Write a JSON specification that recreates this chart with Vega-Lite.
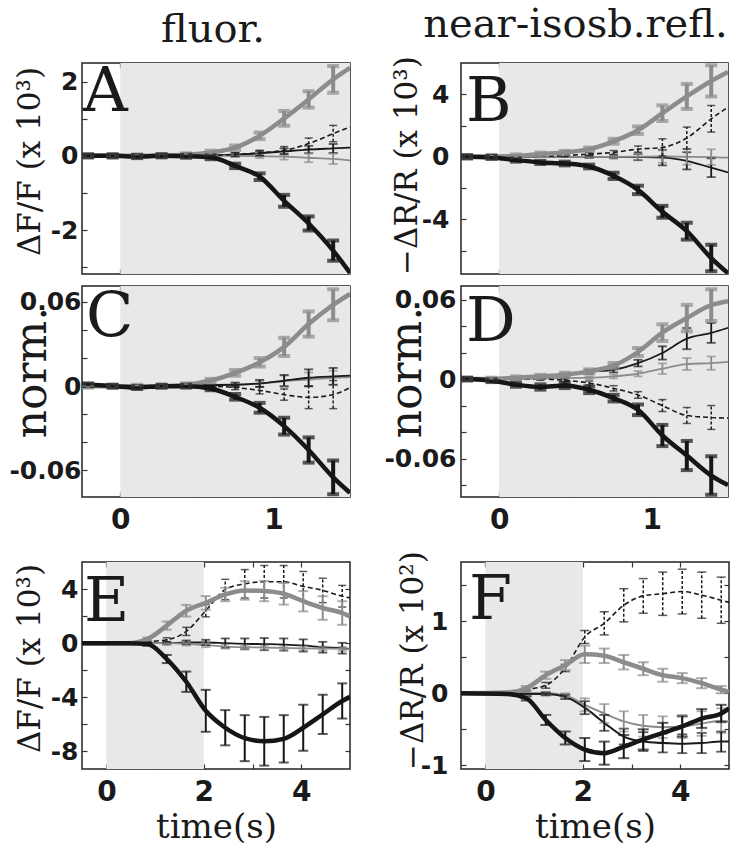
{
"$schema":"https://vega.github.io/schema/vega-lite/v6.json",
"background":"white",
"padding":{"left":8,"top":3,"right":0,"bottom":0},
"datasets":{"d":[
{"p":"A","s":"TG","t":-0.25,"v":0},
{"p":"A","s":"TG","t":-0.21,"v":0,"e":0.04},
{"p":"A","s":"TG","t":-0.05,"v":0,"e":0.04},
{"p":"A","s":"TG","t":0.11,"v":0,"e":0.04},
{"p":"A","s":"TG","t":0.27,"v":0.01,"e":0.04},
{"p":"A","s":"TG","t":0.43,"v":0.03,"e":0.04},
{"p":"A","s":"TG","t":0.59,"v":0.09,"e":0.05},
{"p":"A","s":"TG","t":0.75,"v":0.22,"e":0.06},
{"p":"A","s":"TG","t":0.91,"v":0.54,"e":0.09},
{"p":"A","s":"TG","t":1.07,"v":1.01,"e":0.2},
{"p":"A","s":"TG","t":1.23,"v":1.52,"e":0.22},
{"p":"A","s":"TG","t":1.39,"v":2.06,"e":0.36},
{"p":"A","s":"TG","t":1.5,"v":2.37},
{"p":"A","s":"TK","t":-0.25,"v":0},
{"p":"A","s":"TK","t":-0.21,"v":0,"e":0.04},
{"p":"A","s":"TK","t":-0.05,"v":0,"e":0.04},
{"p":"A","s":"TK","t":0.11,"v":-0.02,"e":0.04},
{"p":"A","s":"TK","t":0.27,"v":0,"e":0.04},
{"p":"A","s":"TK","t":0.43,"v":-0.01,"e":0.04},
{"p":"A","s":"TK","t":0.59,"v":-0.04,"e":0.05},
{"p":"A","s":"TK","t":0.75,"v":-0.27,"e":0.06},
{"p":"A","s":"TK","t":0.91,"v":-0.56,"e":0.09},
{"p":"A","s":"TK","t":1.07,"v":-1.21,"e":0.16},
{"p":"A","s":"TK","t":1.23,"v":-1.82,"e":0.19},
{"p":"A","s":"TK","t":1.39,"v":-2.55,"e":0.27},
{"p":"A","s":"TK","t":1.5,"v":-3.15},
{"p":"A","s":"NK","t":-0.25,"v":0},
{"p":"A","s":"NK","t":0.43,"v":0,"e":0.03},
{"p":"A","s":"NK","t":0.59,"v":0.01,"e":0.04},
{"p":"A","s":"NK","t":0.75,"v":0.03,"e":0.05},
{"p":"A","s":"NK","t":0.91,"v":0.07,"e":0.06},
{"p":"A","s":"NK","t":1.07,"v":0.12,"e":0.08},
{"p":"A","s":"NK","t":1.23,"v":0.17,"e":0.1},
{"p":"A","s":"NK","t":1.39,"v":0.2,"e":0.12},
{"p":"A","s":"NK","t":1.5,"v":0.22},
{"p":"A","s":"DK","t":-0.25,"v":0},
{"p":"A","s":"DK","t":0.43,"v":0,"e":0.03},
{"p":"A","s":"DK","t":0.59,"v":0.01,"e":0.04},
{"p":"A","s":"DK","t":0.75,"v":0.04,"e":0.05},
{"p":"A","s":"DK","t":0.91,"v":0.08,"e":0.07},
{"p":"A","s":"DK","t":1.07,"v":0.15,"e":0.1},
{"p":"A","s":"DK","t":1.23,"v":0.33,"e":0.15},
{"p":"A","s":"DK","t":1.39,"v":0.6,"e":0.22},
{"p":"A","s":"DK","t":1.5,"v":0.78},
{"p":"A","s":"NG","t":-0.25,"v":0},
{"p":"A","s":"NG","t":0.75,"v":0,"e":0.03},
{"p":"A","s":"NG","t":0.91,"v":-0.01,"e":0.05},
{"p":"A","s":"NG","t":1.07,"v":-0.02,"e":0.08},
{"p":"A","s":"NG","t":1.23,"v":-0.05,"e":0.12},
{"p":"A","s":"NG","t":1.39,"v":-0.08,"e":0.14},
{"p":"A","s":"NG","t":1.5,"v":-0.12},

{"p":"B","s":"TG","t":-0.25,"v":0},
{"p":"B","s":"TG","t":-0.21,"v":0,"e":0.1},
{"p":"B","s":"TG","t":-0.05,"v":0.02,"e":0.1},
{"p":"B","s":"TG","t":0.11,"v":0.05,"e":0.1},
{"p":"B","s":"TG","t":0.27,"v":0.17,"e":0.1},
{"p":"B","s":"TG","t":0.43,"v":0.28,"e":0.1},
{"p":"B","s":"TG","t":0.59,"v":0.49,"e":0.1},
{"p":"B","s":"TG","t":0.75,"v":0.99,"e":0.16},
{"p":"B","s":"TG","t":0.91,"v":1.7,"e":0.24},
{"p":"B","s":"TG","t":1.07,"v":2.79,"e":0.5},
{"p":"B","s":"TG","t":1.23,"v":3.86,"e":0.8},
{"p":"B","s":"TG","t":1.39,"v":4.85,"e":1.0},
{"p":"B","s":"TG","t":1.5,"v":5.43},
{"p":"B","s":"TK","t":-0.25,"v":0},
{"p":"B","s":"TK","t":-0.21,"v":0,"e":0.1},
{"p":"B","s":"TK","t":-0.05,"v":-0.04,"e":0.1},
{"p":"B","s":"TK","t":0.11,"v":-0.21,"e":0.1},
{"p":"B","s":"TK","t":0.27,"v":-0.36,"e":0.1},
{"p":"B","s":"TK","t":0.43,"v":-0.43,"e":0.12},
{"p":"B","s":"TK","t":0.59,"v":-0.62,"e":0.12},
{"p":"B","s":"TK","t":0.75,"v":-1.22,"e":0.2},
{"p":"B","s":"TK","t":0.91,"v":-2.12,"e":0.27},
{"p":"B","s":"TK","t":1.07,"v":-3.52,"e":0.38},
{"p":"B","s":"TK","t":1.23,"v":-4.76,"e":0.54},
{"p":"B","s":"TK","t":1.39,"v":-6.48,"e":0.85},
{"p":"B","s":"TK","t":1.5,"v":-7.45},
{"p":"B","s":"DK","t":-0.25,"v":0},
{"p":"B","s":"DK","t":0.27,"v":0.03},
{"p":"B","s":"DK","t":0.43,"v":0.08,"e":0.08},
{"p":"B","s":"DK","t":0.59,"v":0.17,"e":0.1},
{"p":"B","s":"DK","t":0.75,"v":0.28,"e":0.12},
{"p":"B","s":"DK","t":0.91,"v":0.49,"e":0.2},
{"p":"B","s":"DK","t":1.07,"v":0.6,"e":0.55},
{"p":"B","s":"DK","t":1.23,"v":1.2,"e":0.7},
{"p":"B","s":"DK","t":1.39,"v":2.43,"e":0.85},
{"p":"B","s":"DK","t":1.5,"v":3.18},
{"p":"B","s":"NK","t":-0.25,"v":0},
{"p":"B","s":"NK","t":0.59,"v":0,"e":0.08},
{"p":"B","s":"NK","t":0.75,"v":0,"e":0.1},
{"p":"B","s":"NK","t":0.91,"v":-0.02,"e":0.2},
{"p":"B","s":"NK","t":1.07,"v":-0.05,"e":0.5},
{"p":"B","s":"NK","t":1.23,"v":-0.26,"e":0.55},
{"p":"B","s":"NK","t":1.39,"v":-0.7,"e":0.6},
{"p":"B","s":"NK","t":1.5,"v":-1.0},
{"p":"B","s":"NG","t":-0.25,"v":0},
{"p":"B","s":"NG","t":0.59,"v":0,"e":0.08},
{"p":"B","s":"NG","t":0.75,"v":0,"e":0.1},
{"p":"B","s":"NG","t":0.91,"v":0.01,"e":0.2},
{"p":"B","s":"NG","t":1.07,"v":0.02,"e":0.4},
{"p":"B","s":"NG","t":1.23,"v":0,"e":0.5},
{"p":"B","s":"NG","t":1.39,"v":-0.02,"e":0.5},
{"p":"B","s":"NG","t":1.5,"v":-0.06},

{"p":"C","s":"TG","t":-0.25,"v":0},
{"p":"C","s":"TG","t":-0.21,"v":0,"e":0.001},
{"p":"C","s":"TG","t":-0.05,"v":0,"e":0.001},
{"p":"C","s":"TG","t":0.11,"v":0,"e":0.001},
{"p":"C","s":"TG","t":0.27,"v":0,"e":0.001},
{"p":"C","s":"TG","t":0.43,"v":0.001,"e":0.001},
{"p":"C","s":"TG","t":0.59,"v":0.004,"e":0.0012},
{"p":"C","s":"TG","t":0.75,"v":0.0095,"e":0.002},
{"p":"C","s":"TG","t":0.91,"v":0.017,"e":0.003},
{"p":"C","s":"TG","t":1.07,"v":0.028,"e":0.0065},
{"p":"C","s":"TG","t":1.23,"v":0.0443,"e":0.009},
{"p":"C","s":"TG","t":1.39,"v":0.058,"e":0.011},
{"p":"C","s":"TG","t":1.5,"v":0.0657},
{"p":"C","s":"TK","t":-0.25,"v":0.001},
{"p":"C","s":"TK","t":-0.21,"v":0.001,"e":0.001},
{"p":"C","s":"TK","t":-0.05,"v":0,"e":0.001},
{"p":"C","s":"TK","t":0.11,"v":-0.001,"e":0.001},
{"p":"C","s":"TK","t":0.27,"v":0,"e":0.001},
{"p":"C","s":"TK","t":0.43,"v":0,"e":0.001},
{"p":"C","s":"TK","t":0.59,"v":-0.0017,"e":0.0012},
{"p":"C","s":"TK","t":0.75,"v":-0.0076,"e":0.002},
{"p":"C","s":"TK","t":0.91,"v":-0.0154,"e":0.0035},
{"p":"C","s":"TK","t":1.07,"v":-0.0285,"e":0.006},
{"p":"C","s":"TK","t":1.23,"v":-0.0455,"e":0.009},
{"p":"C","s":"TK","t":1.39,"v":-0.065,"e":0.012},
{"p":"C","s":"TK","t":1.5,"v":-0.076},
{"p":"C","s":"DK","t":-0.25,"v":0},
{"p":"C","s":"DK","t":0.59,"v":0,"e":0.001},
{"p":"C","s":"DK","t":0.75,"v":-0.001,"e":0.0015},
{"p":"C","s":"DK","t":0.91,"v":-0.003,"e":0.0025},
{"p":"C","s":"DK","t":1.07,"v":-0.006,"e":0.004},
{"p":"C","s":"DK","t":1.23,"v":-0.008,"e":0.008},
{"p":"C","s":"DK","t":1.39,"v":-0.006,"e":0.01},
{"p":"C","s":"DK","t":1.5,"v":-0.001},
{"p":"C","s":"NG","t":-0.25,"v":0},
{"p":"C","s":"NG","t":0.59,"v":0.0005,"e":0.001},
{"p":"C","s":"NG","t":0.75,"v":0.001,"e":0.0015},
{"p":"C","s":"NG","t":0.91,"v":0.0017,"e":0.002},
{"p":"C","s":"NG","t":1.07,"v":0.0035,"e":0.004},
{"p":"C","s":"NG","t":1.23,"v":0.0047,"e":0.005},
{"p":"C","s":"NG","t":1.39,"v":0.006,"e":0.005},
{"p":"C","s":"NG","t":1.5,"v":0.0064},
{"p":"C","s":"NK","t":-0.25,"v":0},
{"p":"C","s":"NK","t":0.75,"v":0.001,"e":0.0015},
{"p":"C","s":"NK","t":0.91,"v":0.002,"e":0.0025},
{"p":"C","s":"NK","t":1.07,"v":0.004,"e":0.004},
{"p":"C","s":"NK","t":1.23,"v":0.006,"e":0.006},
{"p":"C","s":"NK","t":1.39,"v":0.007,"e":0.006},
{"p":"C","s":"NK","t":1.5,"v":0.0075},

{"p":"D","s":"TG","t":-0.25,"v":0},
{"p":"D","s":"TG","t":-0.21,"v":0,"e":0.001},
{"p":"D","s":"TG","t":-0.05,"v":0,"e":0.001},
{"p":"D","s":"TG","t":0.11,"v":0.001,"e":0.001},
{"p":"D","s":"TG","t":0.27,"v":0.002,"e":0.0012},
{"p":"D","s":"TG","t":0.43,"v":0.0033,"e":0.0015},
{"p":"D","s":"TG","t":0.59,"v":0.0058,"e":0.0015},
{"p":"D","s":"TG","t":0.75,"v":0.0101,"e":0.002},
{"p":"D","s":"TG","t":0.91,"v":0.0204,"e":0.003},
{"p":"D","s":"TG","t":1.07,"v":0.035,"e":0.0063},
{"p":"D","s":"TG","t":1.23,"v":0.046,"e":0.01},
{"p":"D","s":"TG","t":1.39,"v":0.0557,"e":0.012},
{"p":"D","s":"TG","t":1.5,"v":0.0587},
{"p":"D","s":"TK","t":-0.25,"v":0},
{"p":"D","s":"TK","t":-0.21,"v":0,"e":0.001},
{"p":"D","s":"TK","t":-0.05,"v":-0.0013,"e":0.001},
{"p":"D","s":"TK","t":0.11,"v":-0.0043,"e":0.0015},
{"p":"D","s":"TK","t":0.27,"v":-0.006,"e":0.002},
{"p":"D","s":"TK","t":0.43,"v":-0.0048,"e":0.002},
{"p":"D","s":"TK","t":0.59,"v":-0.0081,"e":0.0025},
{"p":"D","s":"TK","t":0.75,"v":-0.0144,"e":0.0025},
{"p":"D","s":"TK","t":0.91,"v":-0.0232,"e":0.004},
{"p":"D","s":"TK","t":1.07,"v":-0.0426,"e":0.008},
{"p":"D","s":"TK","t":1.23,"v":-0.0577,"e":0.011},
{"p":"D","s":"TK","t":1.39,"v":-0.0728,"e":0.0145},
{"p":"D","s":"TK","t":1.5,"v":-0.08},
{"p":"D","s":"NK","t":-0.25,"v":0},
{"p":"D","s":"NK","t":0.11,"v":0.001},
{"p":"D","s":"NK","t":0.43,"v":0.003,"e":0.001},
{"p":"D","s":"NK","t":0.59,"v":0.0055,"e":0.0015},
{"p":"D","s":"NK","t":0.75,"v":0.007,"e":0.002},
{"p":"D","s":"NK","t":0.91,"v":0.012,"e":0.0025},
{"p":"D","s":"NK","t":1.07,"v":0.0197,"e":0.005},
{"p":"D","s":"NK","t":1.23,"v":0.0305,"e":0.008},
{"p":"D","s":"NK","t":1.39,"v":0.0348,"e":0.0075},
{"p":"D","s":"NK","t":1.5,"v":0.0386},
{"p":"D","s":"NG","t":-0.25,"v":0},
{"p":"D","s":"NG","t":0.59,"v":0.001,"e":0.001},
{"p":"D","s":"NG","t":0.75,"v":0.002,"e":0.0015},
{"p":"D","s":"NG","t":0.91,"v":0.004,"e":0.002},
{"p":"D","s":"NG","t":1.07,"v":0.0078,"e":0.004},
{"p":"D","s":"NG","t":1.23,"v":0.0113,"e":0.0045},
{"p":"D","s":"NG","t":1.39,"v":0.012,"e":0.005},
{"p":"D","s":"NG","t":1.5,"v":0.0129},
{"p":"D","s":"DK","t":-0.25,"v":0},
{"p":"D","s":"DK","t":0.27,"v":0,"e":0.001},
{"p":"D","s":"DK","t":0.43,"v":-0.001,"e":0.001},
{"p":"D","s":"DK","t":0.59,"v":-0.003,"e":0.0015},
{"p":"D","s":"DK","t":0.75,"v":-0.007,"e":0.002},
{"p":"D","s":"DK","t":0.91,"v":-0.012,"e":0.0025},
{"p":"D","s":"DK","t":1.07,"v":-0.02,"e":0.0045},
{"p":"D","s":"DK","t":1.23,"v":-0.0275,"e":0.006},
{"p":"D","s":"DK","t":1.39,"v":-0.029,"e":0.009},
{"p":"D","s":"DK","t":1.5,"v":-0.0295},

{"p":"E","s":"TG","t":-0.5,"v":0},
{"p":"E","s":"TG","t":0.44,"v":0},
{"p":"E","s":"TG","t":0.84,"v":0.3,"e":0.12},
{"p":"E","s":"TG","t":1.24,"v":1.3,"e":0.3},
{"p":"E","s":"TG","t":1.64,"v":2.4,"e":0.43},
{"p":"E","s":"TG","t":2.04,"v":2.98,"e":0.5},
{"p":"E","s":"TG","t":2.44,"v":3.6,"e":0.5},
{"p":"E","s":"TG","t":2.84,"v":3.9,"e":0.68},
{"p":"E","s":"TG","t":3.24,"v":3.85,"e":0.75},
{"p":"E","s":"TG","t":3.64,"v":3.65,"e":0.8},
{"p":"E","s":"TG","t":4.04,"v":3.1,"e":0.75},
{"p":"E","s":"TG","t":4.44,"v":2.6,"e":0.87},
{"p":"E","s":"TG","t":4.84,"v":2.23,"e":0.87},
{"p":"E","s":"TG","t":5.0,"v":1.98},
{"p":"E","s":"DK","t":-0.5,"v":0},
{"p":"E","s":"DK","t":0.44,"v":0},
{"p":"E","s":"DK","t":0.84,"v":0.12,"e":0.12},
{"p":"E","s":"DK","t":1.24,"v":0.25,"e":0.15},
{"p":"E","s":"DK","t":1.64,"v":0.87,"e":0.3},
{"p":"E","s":"DK","t":2.04,"v":2.4,"e":0.45},
{"p":"E","s":"DK","t":2.44,"v":3.97,"e":0.75},
{"p":"E","s":"DK","t":2.84,"v":4.39,"e":1.05},
{"p":"E","s":"DK","t":3.24,"v":4.54,"e":1.2},
{"p":"E","s":"DK","t":3.64,"v":4.54,"e":1.2},
{"p":"E","s":"DK","t":4.04,"v":4.2,"e":1.1},
{"p":"E","s":"DK","t":4.44,"v":3.9,"e":0.9},
{"p":"E","s":"DK","t":4.84,"v":3.47,"e":0.8},
{"p":"E","s":"DK","t":5.0,"v":3.35},
{"p":"E","s":"TK","t":-0.5,"v":0},
{"p":"E","s":"TK","t":0.44,"v":0},
{"p":"E","s":"TK","t":0.84,"v":-0.07,"e":0.12},
{"p":"E","s":"TK","t":1.24,"v":-1.17,"e":0.3},
{"p":"E","s":"TK","t":1.64,"v":-2.85,"e":0.75},
{"p":"E","s":"TK","t":2.04,"v":-5.0,"e":1.55},
{"p":"E","s":"TK","t":2.44,"v":-6.25,"e":1.3},
{"p":"E","s":"TK","t":2.84,"v":-7.02,"e":1.7},
{"p":"E","s":"TK","t":3.24,"v":-7.25,"e":1.8},
{"p":"E","s":"TK","t":3.64,"v":-7.07,"e":1.75},
{"p":"E","s":"TK","t":4.04,"v":-6.25,"e":1.7},
{"p":"E","s":"TK","t":4.44,"v":-5.26,"e":1.45},
{"p":"E","s":"TK","t":4.84,"v":-4.27,"e":1.3},
{"p":"E","s":"TK","t":5.0,"v":-3.97},
{"p":"E","s":"NK","t":-0.5,"v":0},
{"p":"E","s":"NK","t":0.84,"v":0,"e":0.05},
{"p":"E","s":"NK","t":1.24,"v":0,"e":0.1},
{"p":"E","s":"NK","t":1.64,"v":0.05,"e":0.15},
{"p":"E","s":"NK","t":2.04,"v":0.05,"e":0.2},
{"p":"E","s":"NK","t":2.44,"v":0,"e":0.35},
{"p":"E","s":"NK","t":2.84,"v":-0.05,"e":0.4},
{"p":"E","s":"NK","t":3.24,"v":-0.07,"e":0.45},
{"p":"E","s":"NK","t":3.64,"v":-0.1,"e":0.45},
{"p":"E","s":"NK","t":4.04,"v":-0.17,"e":0.45},
{"p":"E","s":"NK","t":4.44,"v":-0.3,"e":0.4},
{"p":"E","s":"NK","t":4.84,"v":-0.37,"e":0.4},
{"p":"E","s":"NK","t":5.0,"v":-0.42},
{"p":"E","s":"NG","t":-0.5,"v":0},
{"p":"E","s":"NG","t":1.24,"v":0,"e":0.1},
{"p":"E","s":"NG","t":1.64,"v":-0.05,"e":0.12},
{"p":"E","s":"NG","t":2.04,"v":-0.15,"e":0.15},
{"p":"E","s":"NG","t":2.44,"v":-0.25,"e":0.15},
{"p":"E","s":"NG","t":2.84,"v":-0.3,"e":0.15},
{"p":"E","s":"NG","t":3.24,"v":-0.32,"e":0.15},
{"p":"E","s":"NG","t":3.64,"v":-0.35,"e":0.15},
{"p":"E","s":"NG","t":4.04,"v":-0.38,"e":0.15},
{"p":"E","s":"NG","t":4.44,"v":-0.4,"e":0.15},
{"p":"E","s":"NG","t":4.84,"v":-0.42,"e":0.15},
{"p":"E","s":"NG","t":5.0,"v":-0.45},

{"p":"F","s":"TG","t":-0.5,"v":0},
{"p":"F","s":"TG","t":0.44,"v":0.01},
{"p":"F","s":"TG","t":0.84,"v":0.07,"e":0.03},
{"p":"F","s":"TG","t":1.24,"v":0.25,"e":0.05},
{"p":"F","s":"TG","t":1.64,"v":0.39,"e":0.07},
{"p":"F","s":"TG","t":2.04,"v":0.54,"e":0.12},
{"p":"F","s":"TG","t":2.44,"v":0.52,"e":0.1},
{"p":"F","s":"TG","t":2.84,"v":0.43,"e":0.1},
{"p":"F","s":"TG","t":3.24,"v":0.34,"e":0.09},
{"p":"F","s":"TG","t":3.64,"v":0.25,"e":0.09},
{"p":"F","s":"TG","t":4.04,"v":0.21,"e":0.07},
{"p":"F","s":"TG","t":4.44,"v":0.14,"e":0.07},
{"p":"F","s":"TG","t":4.84,"v":0.05,"e":0.05},
{"p":"F","s":"TG","t":5.0,"v":0.02},
{"p":"F","s":"DK","t":-0.5,"v":0},
{"p":"F","s":"DK","t":0.44,"v":0},
{"p":"F","s":"DK","t":0.84,"v":0.05,"e":0.02},
{"p":"F","s":"DK","t":1.24,"v":0.11,"e":0.04},
{"p":"F","s":"DK","t":1.64,"v":0.35,"e":0.05},
{"p":"F","s":"DK","t":2.04,"v":0.78,"e":0.09},
{"p":"F","s":"DK","t":2.44,"v":0.97,"e":0.16},
{"p":"F","s":"DK","t":2.84,"v":1.22,"e":0.23},
{"p":"F","s":"DK","t":3.24,"v":1.35,"e":0.24},
{"p":"F","s":"DK","t":3.64,"v":1.38,"e":0.3},
{"p":"F","s":"DK","t":4.04,"v":1.41,"e":0.31},
{"p":"F","s":"DK","t":4.44,"v":1.36,"e":0.32},
{"p":"F","s":"DK","t":4.84,"v":1.29,"e":0.32},
{"p":"F","s":"DK","t":5.0,"v":1.26},
{"p":"F","s":"NG","t":-0.5,"v":0},
{"p":"F","s":"NG","t":1.24,"v":0,"e":0.02},
{"p":"F","s":"NG","t":1.64,"v":-0.03,"e":0.03},
{"p":"F","s":"NG","t":2.04,"v":-0.16,"e":0.09},
{"p":"F","s":"NG","t":2.44,"v":-0.28,"e":0.13},
{"p":"F","s":"NG","t":2.84,"v":-0.39,"e":0.14},
{"p":"F","s":"NG","t":3.24,"v":-0.45,"e":0.15},
{"p":"F","s":"NG","t":3.64,"v":-0.47,"e":0.15},
{"p":"F","s":"NG","t":4.04,"v":-0.46,"e":0.16},
{"p":"F","s":"NG","t":4.44,"v":-0.42,"e":0.17},
{"p":"F","s":"NG","t":4.84,"v":-0.38,"e":0.17},
{"p":"F","s":"NG","t":5.0,"v":-0.39},
{"p":"F","s":"NK","t":-0.5,"v":0},
{"p":"F","s":"NK","t":1.24,"v":-0.01,"e":0.02},
{"p":"F","s":"NK","t":1.64,"v":-0.05,"e":0.03},
{"p":"F","s":"NK","t":2.04,"v":-0.2,"e":0.09},
{"p":"F","s":"NK","t":2.44,"v":-0.41,"e":0.11},
{"p":"F","s":"NK","t":2.84,"v":-0.6,"e":0.11},
{"p":"F","s":"NK","t":3.24,"v":-0.67,"e":0.13},
{"p":"F","s":"NK","t":3.64,"v":-0.69,"e":0.13},
{"p":"F","s":"NK","t":4.04,"v":-0.7,"e":0.13},
{"p":"F","s":"NK","t":4.44,"v":-0.69,"e":0.14},
{"p":"F","s":"NK","t":4.84,"v":-0.67,"e":0.14},
{"p":"F","s":"NK","t":5.0,"v":-0.67},
{"p":"F","s":"TK","t":-0.5,"v":0},
{"p":"F","s":"TK","t":0.44,"v":-0.01},
{"p":"F","s":"TK","t":0.84,"v":-0.07,"e":0.03},
{"p":"F","s":"TK","t":1.24,"v":-0.37,"e":0.07},
{"p":"F","s":"TK","t":1.64,"v":-0.62,"e":0.09},
{"p":"F","s":"TK","t":2.04,"v":-0.78,"e":0.16},
{"p":"F","s":"TK","t":2.44,"v":-0.83,"e":0.16},
{"p":"F","s":"TK","t":2.84,"v":-0.74,"e":0.16},
{"p":"F","s":"TK","t":3.24,"v":-0.64,"e":0.14},
{"p":"F","s":"TK","t":3.64,"v":-0.55,"e":0.14},
{"p":"F","s":"TK","t":4.04,"v":-0.46,"e":0.14},
{"p":"F","s":"TK","t":4.44,"v":-0.35,"e":0.13},
{"p":"F","s":"TK","t":4.84,"v":-0.28,"e":0.12},
{"p":"F","s":"TK","t":5.0,"v":-0.21}
]},
"columns":2,
"bounds":"flush",
"spacing":{"row":12,"column":111},
"concat":[
{"width":268,"height":211,
 "title":{"text":"fluor.","font":"DejaVu Serif","fontSize":40,"fontWeight":"normal","color":"#1a1a1a","baseline":"alphabetic","offset":-21,"frame":"group","dx":-3},
 "resolve":{"axis":{"x":"independent","y":"independent"}},
 "layer":[
  {"data":{"values":[{}]},"mark":{"type":"rect","color":"#e8e8e8"},"encoding":{"x":{"datum":0,"type":"quantitative","axis":null},"x2":{"datum":1.5},"y":{"datum":-3.18,"type":"quantitative","axis":null},"y2":{"datum":2.5}}},
  {"data":{"name":"d"},
   "encoding":{
    "x":{"field":"t","type":"quantitative","scale":{"domain":[-0.25,1.5],"nice":false,"zero":false},"axis":{"values":[0,0.5,1],"labels":false,"title":null}},
    "y":{"field":"v","type":"quantitative","scale":{"domain":[-3.18,2.5],"nice":false,"zero":false},"axis":{"values":[-3,-2,-1,0,1,2],"labelExpr":"datum.value==2?'2':datum.value==0?'0':datum.value==-2?'-2':''","title":"ΔF/F (x 10³)","titleY":98,"labelPadding":9,"titlePadding":4}}
   },
   "layer":[
    {"transform":[{"filter":"datum.p=='A' && (datum.s=='NG' || datum.s=='NK')"}],"mark":{"type":"line","strokeWidth":1.8,"interpolate":"monotone","clip":true},"encoding":{"color":{"field":"s","type":"nominal","scale":{"domain":["TG","TK","NG","NK","DK"],"range":["#8c8c8c","#161616","#8c8c8c","#1a1a1a","#1a1a1a"]},"legend":null}}},
    {"transform":[{"filter":"datum.p=='A' && (datum.s=='NG' || datum.s=='NK') && isValid(datum.e)"}],"mark":{"type":"errorbar","ticks":true,"thickness":1.8,"size":9,"clip":true},"encoding":{"yError":{"field":"e"},"color":{"field":"s","type":"nominal","legend":null}}},
    {"transform":[{"filter":"datum.p=='A' && datum.s=='DK'"}],"mark":{"type":"line","strokeWidth":1.6,"strokeDash":[5,3],"interpolate":"monotone","clip":true},"encoding":{"color":{"field":"s","type":"nominal","legend":null}}},
    {"transform":[{"filter":"datum.p=='A' && datum.s=='DK' && isValid(datum.e)"}],"mark":{"type":"errorbar","ticks":true,"thickness":1.5,"size":8,"rule":{"strokeDash":[3,2]},"clip":true},"encoding":{"yError":{"field":"e"},"color":{"field":"s","type":"nominal","legend":null}}},
    {"transform":[{"filter":"datum.p=='A' && (datum.s=='TG' || datum.s=='TK')"}],"mark":{"type":"line","strokeWidth":4.5,"interpolate":"monotone","clip":true},"encoding":{"color":{"field":"s","type":"nominal","legend":null}}},
    {"transform":[{"filter":"datum.p=='A' && (datum.s=='TG' || datum.s=='TK') && isValid(datum.e)"}],"mark":{"type":"errorbar","ticks":true,"thickness":4,"size":12,"clip":true},"encoding":{"yError":{"field":"e"},"color":{"field":"s","type":"nominal","legend":null}}}
   ]},
  {"data":{"values":[{}]},"mark":{"type":"text","text":"A","font":"DejaVu Serif","fontSize":62,"align":"left","baseline":"alphabetic","dx":1,"dy":48,"color":"#1a1a1a"},"encoding":{"x":{"datum":-0.25,"type":"quantitative","axis":null},"y":{"datum":2.5,"type":"quantitative","axis":null}}},
  {"data":{"values":[{}]},"mark":{"type":"point","opacity":0},"encoding":{"x":{"datum":0,"type":"quantitative","axis":{"orient":"top","values":[0,0.5,1],"labels":false,"title":null}},"y":{"datum":0,"type":"quantitative","axis":{"orient":"right","values":[-3,-2,-1,0,1,2],"labels":false,"title":null}}}}
 ]},
{"width":267,"height":211,
 "title":{"text":"near-isosb.refl.","font":"DejaVu Serif","fontSize":40,"fontWeight":"normal","color":"#1a1a1a","baseline":"alphabetic","offset":-21,"frame":"group","dx":-19},
 "resolve":{"axis":{"x":"independent","y":"independent"}},
 "layer":[
  {"data":{"values":[{}]},"mark":{"type":"rect","color":"#e8e8e8"},"encoding":{"x":{"datum":0,"type":"quantitative","axis":null},"x2":{"datum":1.5},"y":{"datum":-7.5,"type":"quantitative","axis":null},"y2":{"datum":6}}},
  {"data":{"name":"d"},
   "encoding":{
    "x":{"field":"t","type":"quantitative","scale":{"domain":[-0.25,1.5],"nice":false,"zero":false},"axis":{"values":[0,0.5,1],"labels":false,"title":null}},
    "y":{"field":"v","type":"quantitative","scale":{"domain":[-7.5,6],"nice":false,"zero":false},"axis":{"values":[-6,-4,-2,0,2,4],"labelExpr":"datum.value==4?'4':datum.value==0?'0':datum.value==-4?'-4':''","title":"−ΔR/R (x 10³)","titleY":102,"labelPadding":17,"titlePadding":-2}}
   },
   "layer":[
    {"transform":[{"filter":"datum.p=='B' && (datum.s=='NG' || datum.s=='NK')"}],"mark":{"type":"line","strokeWidth":1.8,"interpolate":"monotone","clip":true},"encoding":{"color":{"field":"s","type":"nominal","legend":null}}},
    {"transform":[{"filter":"datum.p=='B' && (datum.s=='NG' || datum.s=='NK') && isValid(datum.e)"}],"mark":{"type":"errorbar","ticks":true,"thickness":1.8,"size":9,"clip":true},"encoding":{"yError":{"field":"e"},"color":{"field":"s","type":"nominal","legend":null}}},
    {"transform":[{"filter":"datum.p=='B' && datum.s=='DK'"}],"mark":{"type":"line","strokeWidth":1.6,"strokeDash":[5,3],"interpolate":"monotone","clip":true},"encoding":{"color":{"field":"s","type":"nominal","legend":null}}},
    {"transform":[{"filter":"datum.p=='B' && datum.s=='DK' && isValid(datum.e)"}],"mark":{"type":"errorbar","ticks":true,"thickness":1.5,"size":8,"rule":{"strokeDash":[3,2]},"clip":true},"encoding":{"yError":{"field":"e"},"color":{"field":"s","type":"nominal","legend":null}}},
    {"transform":[{"filter":"datum.p=='B' && (datum.s=='TG' || datum.s=='TK')"}],"mark":{"type":"line","strokeWidth":4.5,"interpolate":"monotone","clip":true},"encoding":{"color":{"field":"s","type":"nominal","legend":null}}},
    {"transform":[{"filter":"datum.p=='B' && (datum.s=='TG' || datum.s=='TK') && isValid(datum.e)"}],"mark":{"type":"errorbar","ticks":true,"thickness":4,"size":12,"clip":true},"encoding":{"yError":{"field":"e"},"color":{"field":"s","type":"nominal","legend":null}}}
   ]},
  {"data":{"values":[{}]},"mark":{"type":"text","text":"B","font":"DejaVu Serif","fontSize":62,"align":"left","baseline":"alphabetic","dx":5,"dy":58,"color":"#1a1a1a"},"encoding":{"x":{"datum":-0.25,"type":"quantitative","axis":null},"y":{"datum":6,"type":"quantitative","axis":null}}},
  {"data":{"values":[{}]},"mark":{"type":"point","opacity":0},"encoding":{"x":{"datum":0,"type":"quantitative","axis":{"orient":"top","values":[0,0.5,1],"labels":false,"title":null}},"y":{"datum":0,"type":"quantitative","axis":{"orient":"right","values":[-6,-4,-2,0,2,4],"labels":false,"title":null}}}}
 ]},
{"width":268,"height":211,
 "resolve":{"axis":{"x":"independent","y":"independent"}},
 "layer":[
  {"data":{"values":[{}]},"mark":{"type":"rect","color":"#e8e8e8"},"encoding":{"x":{"datum":0,"type":"quantitative","axis":null},"x2":{"datum":1.5},"y":{"datum":-0.079,"type":"quantitative","axis":null},"y2":{"datum":0.0714}}},
  {"data":{"name":"d"},
   "encoding":{
    "x":{"field":"t","type":"quantitative","scale":{"domain":[-0.25,1.5],"nice":false,"zero":false},"axis":{"values":[0,0.5,1],"labelExpr":"datum.value==0?'0':datum.value==1?'1':''","title":null}},
    "y":{"field":"v","type":"quantitative","scale":{"domain":[-0.079,0.0714],"nice":false,"zero":false},"axis":{"values":[-0.06,-0.04,-0.02,0,0.02,0.04,0.06],"labelExpr":"datum.value==0.06?'0.06':datum.value==0?'0':datum.value==-0.06?'-0.06':''","title":"norm.","titleFontSize":44,"titleY":86,"labelPadding":6,"titlePadding":-46}}
   },
   "layer":[
    {"transform":[{"filter":"datum.p=='C' && (datum.s=='NG' || datum.s=='NK')"}],"mark":{"type":"line","strokeWidth":1.8,"interpolate":"monotone","clip":true},"encoding":{"color":{"field":"s","type":"nominal","legend":null}}},
    {"transform":[{"filter":"datum.p=='C' && (datum.s=='NG' || datum.s=='NK') && isValid(datum.e)"}],"mark":{"type":"errorbar","ticks":true,"thickness":1.8,"size":9,"clip":true},"encoding":{"yError":{"field":"e"},"color":{"field":"s","type":"nominal","legend":null}}},
    {"transform":[{"filter":"datum.p=='C' && datum.s=='DK'"}],"mark":{"type":"line","strokeWidth":1.6,"strokeDash":[5,3],"interpolate":"monotone","clip":true},"encoding":{"color":{"field":"s","type":"nominal","legend":null}}},
    {"transform":[{"filter":"datum.p=='C' && datum.s=='DK' && isValid(datum.e)"}],"mark":{"type":"errorbar","ticks":true,"thickness":1.5,"size":8,"rule":{"strokeDash":[3,2]},"clip":true},"encoding":{"yError":{"field":"e"},"color":{"field":"s","type":"nominal","legend":null}}},
    {"transform":[{"filter":"datum.p=='C' && (datum.s=='TG' || datum.s=='TK')"}],"mark":{"type":"line","strokeWidth":4.5,"interpolate":"monotone","clip":true},"encoding":{"color":{"field":"s","type":"nominal","legend":null}}},
    {"transform":[{"filter":"datum.p=='C' && (datum.s=='TG' || datum.s=='TK') && isValid(datum.e)"}],"mark":{"type":"errorbar","ticks":true,"thickness":4,"size":12,"clip":true},"encoding":{"yError":{"field":"e"},"color":{"field":"s","type":"nominal","legend":null}}}
   ]},
  {"data":{"values":[{}]},"mark":{"type":"text","text":"C","font":"DejaVu Serif","fontSize":62,"align":"left","baseline":"alphabetic","dx":4,"dy":50,"color":"#1a1a1a"},"encoding":{"x":{"datum":-0.25,"type":"quantitative","axis":null},"y":{"datum":0.0714,"type":"quantitative","axis":null}}},
  {"data":{"values":[{}]},"mark":{"type":"point","opacity":0},"encoding":{"x":{"datum":0,"type":"quantitative","axis":{"orient":"top","values":[0,0.5,1],"labels":false,"title":null}},"y":{"datum":0,"type":"quantitative","axis":{"orient":"right","values":[-0.06,-0.04,-0.02,0,0.02,0.04,0.06],"labels":false,"title":null}}}}
 ]},
{"width":267,"height":211,
 "resolve":{"axis":{"x":"independent","y":"independent"}},
 "layer":[
  {"data":{"values":[{}]},"mark":{"type":"rect","color":"#e8e8e8"},"encoding":{"x":{"datum":0,"type":"quantitative","axis":null},"x2":{"datum":1.5},"y":{"datum":-0.089,"type":"quantitative","axis":null},"y2":{"datum":0.0702}}},
  {"data":{"name":"d"},
   "encoding":{
    "x":{"field":"t","type":"quantitative","scale":{"domain":[-0.25,1.5],"nice":false,"zero":false},"axis":{"values":[0,0.5,1],"labelExpr":"datum.value==0?'0':datum.value==1?'1':''","title":null}},
    "y":{"field":"v","type":"quantitative","scale":{"domain":[-0.089,0.0702],"nice":false,"zero":false},"axis":{"values":[-0.08,-0.06,-0.04,-0.02,0,0.02,0.04,0.06],"labelExpr":"datum.value==0.06?'0.06':datum.value==0?'0':datum.value==-0.06?'-0.06':''","title":"norm.","titleFontSize":44,"titleY":86,"labelPadding":10,"titlePadding":-46}}
   },
   "layer":[
    {"transform":[{"filter":"datum.p=='D' && (datum.s=='NG' || datum.s=='NK')"}],"mark":{"type":"line","strokeWidth":1.8,"interpolate":"monotone","clip":true},"encoding":{"color":{"field":"s","type":"nominal","legend":null}}},
    {"transform":[{"filter":"datum.p=='D' && (datum.s=='NG' || datum.s=='NK') && isValid(datum.e)"}],"mark":{"type":"errorbar","ticks":true,"thickness":1.8,"size":9,"clip":true},"encoding":{"yError":{"field":"e"},"color":{"field":"s","type":"nominal","legend":null}}},
    {"transform":[{"filter":"datum.p=='D' && datum.s=='DK'"}],"mark":{"type":"line","strokeWidth":1.6,"strokeDash":[5,3],"interpolate":"monotone","clip":true},"encoding":{"color":{"field":"s","type":"nominal","legend":null}}},
    {"transform":[{"filter":"datum.p=='D' && datum.s=='DK' && isValid(datum.e)"}],"mark":{"type":"errorbar","ticks":true,"thickness":1.5,"size":8,"rule":{"strokeDash":[3,2]},"clip":true},"encoding":{"yError":{"field":"e"},"color":{"field":"s","type":"nominal","legend":null}}},
    {"transform":[{"filter":"datum.p=='D' && (datum.s=='TG' || datum.s=='TK')"}],"mark":{"type":"line","strokeWidth":4.5,"interpolate":"monotone","clip":true},"encoding":{"color":{"field":"s","type":"nominal","legend":null}}},
    {"transform":[{"filter":"datum.p=='D' && (datum.s=='TG' || datum.s=='TK') && isValid(datum.e)"}],"mark":{"type":"errorbar","ticks":true,"thickness":4,"size":12,"clip":true},"encoding":{"yError":{"field":"e"},"color":{"field":"s","type":"nominal","legend":null}}}
   ]},
  {"data":{"values":[{}]},"mark":{"type":"text","text":"D","font":"DejaVu Serif","fontSize":62,"align":"left","baseline":"alphabetic","dx":5,"dy":55,"color":"#1a1a1a"},"encoding":{"x":{"datum":-0.25,"type":"quantitative","axis":null},"y":{"datum":0.0702,"type":"quantitative","axis":null}}},
  {"data":{"values":[{}]},"mark":{"type":"point","opacity":0},"encoding":{"x":{"datum":0,"type":"quantitative","axis":{"orient":"top","values":[0,0.5,1],"labels":false,"title":null}},"y":{"datum":0,"type":"quantitative","axis":{"orient":"right","values":[-0.08,-0.06,-0.04,-0.02,0,0.02,0.04,0.06],"labels":false,"title":null}}}}
 ]},
{"width":268,"height":41,"data":{"values":[{}]},"mark":{"type":"text","text":""},"view":{"stroke":null}},
{"width":267,"height":41,"data":{"values":[{}]},"mark":{"type":"text","text":""},"view":{"stroke":null}},
{"width":268,"height":207,
 "resolve":{"axis":{"x":"independent","y":"independent"}},
 "layer":[
  {"data":{"values":[{}]},"mark":{"type":"rect","color":"#e8e8e8"},"encoding":{"x":{"datum":0,"type":"quantitative","axis":null},"x2":{"datum":2},"y":{"datum":-9.3,"type":"quantitative","axis":null},"y2":{"datum":6}}},
  {"data":{"name":"d"},
   "encoding":{
    "x":{"field":"t","type":"quantitative","scale":{"domain":[-0.5,5],"nice":false,"zero":false},"axis":{"values":[0,1,2,3,4],"labelExpr":"datum.value==0?'0':datum.value==2?'2':datum.value==4?'4':''","title":"time(s)"}},
    "y":{"field":"v","type":"quantitative","scale":{"domain":[-9.3,6],"nice":false,"zero":false},"axis":{"values":[-8,-6,-4,-2,0,2,4],"labelExpr":"datum.value==4?'4':datum.value==0?'0':datum.value==-4?'-4':datum.value==-8?'-8':''","title":"ΔF/F (x 10³)","titleY":96,"labelPadding":9,"titlePadding":4}}
   },
   "layer":[
    {"transform":[{"filter":"datum.p=='E' && (datum.s=='NG' || datum.s=='NK')"}],"mark":{"type":"line","strokeWidth":1.8,"interpolate":"monotone","clip":true},"encoding":{"color":{"field":"s","type":"nominal","legend":null}}},
    {"transform":[{"filter":"datum.p=='E' && (datum.s=='NG' || datum.s=='NK') && isValid(datum.e)"}],"mark":{"type":"errorbar","ticks":true,"thickness":1.8,"size":9,"clip":true},"encoding":{"yError":{"field":"e"},"color":{"field":"s","type":"nominal","legend":null}}},
    {"transform":[{"filter":"datum.p=='E' && datum.s=='DK'"}],"mark":{"type":"line","strokeWidth":1.6,"strokeDash":[5,3],"interpolate":"monotone","clip":true},"encoding":{"color":{"field":"s","type":"nominal","legend":null}}},
    {"transform":[{"filter":"datum.p=='E' && datum.s=='DK' && isValid(datum.e)"}],"mark":{"type":"errorbar","ticks":true,"thickness":1.5,"size":8,"rule":{"strokeDash":[3,2]},"clip":true},"encoding":{"yError":{"field":"e"},"color":{"field":"s","type":"nominal","legend":null}}},
    {"transform":[{"filter":"datum.p=='E' && (datum.s=='TG' || datum.s=='TK')"}],"mark":{"type":"line","strokeWidth":4.5,"interpolate":"monotone","clip":true},"encoding":{"color":{"field":"s","type":"nominal","legend":null}}},
    {"transform":[{"filter":"datum.p=='E' && (datum.s=='TG' || datum.s=='TK') && isValid(datum.e)"}],"mark":{"type":"errorbar","ticks":true,"thickness":2,"size":10,"clip":true},"encoding":{"yError":{"field":"e"},"color":{"field":"s","type":"nominal","legend":null}}}
   ]},
  {"data":{"values":[{}]},"mark":{"type":"text","text":"E","font":"DejaVu Serif","fontSize":62,"align":"left","baseline":"alphabetic","dx":2,"dy":59,"color":"#1a1a1a"},"encoding":{"x":{"datum":-0.5,"type":"quantitative","axis":null},"y":{"datum":6,"type":"quantitative","axis":null}}},
  {"data":{"values":[{}]},"mark":{"type":"point","opacity":0},"encoding":{"x":{"datum":0,"type":"quantitative","axis":{"orient":"top","values":[0,1,2,3,4],"labels":false,"title":null}},"y":{"datum":0,"type":"quantitative","axis":{"orient":"right","values":[-8,-6,-4,-2,0,2,4],"labels":false,"title":null}}}}
 ]},
{"width":268,"height":207,
 "resolve":{"axis":{"x":"independent","y":"independent"}},
 "layer":[
  {"data":{"values":[{}]},"mark":{"type":"rect","color":"#e8e8e8"},"encoding":{"x":{"datum":0,"type":"quantitative","axis":null},"x2":{"datum":2},"y":{"datum":-1.05,"type":"quantitative","axis":null},"y2":{"datum":1.82}}},
  {"data":{"name":"d"},
   "encoding":{
    "x":{"field":"t","type":"quantitative","scale":{"domain":[-0.5,5],"nice":false,"zero":false},"axis":{"values":[0,1,2,3,4],"labelExpr":"datum.value==0?'0':datum.value==2?'2':datum.value==4?'4':''","title":"time(s)"}},
    "y":{"field":"v","type":"quantitative","scale":{"domain":[-1.05,1.82],"nice":false,"zero":false},"axis":{"values":[-1,-0.5,0,0.5,1,1.5],"labelExpr":"datum.value==1?'1':datum.value==0?'0':datum.value==-1?'-1':''","title":"−ΔR/R (x 10²)","titleY":98,"labelPadding":18,"titlePadding":-9}}
   },
   "layer":[
    {"transform":[{"filter":"datum.p=='F' && (datum.s=='NG' || datum.s=='NK')"}],"mark":{"type":"line","strokeWidth":2,"interpolate":"monotone","clip":true},"encoding":{"color":{"field":"s","type":"nominal","legend":null}}},
    {"transform":[{"filter":"datum.p=='F' && (datum.s=='NG' || datum.s=='NK') && isValid(datum.e)"}],"mark":{"type":"errorbar","ticks":true,"thickness":1.8,"size":10,"clip":true},"encoding":{"yError":{"field":"e"},"color":{"field":"s","type":"nominal","legend":null}}},
    {"transform":[{"filter":"datum.p=='F' && datum.s=='DK'"}],"mark":{"type":"line","strokeWidth":1.6,"strokeDash":[5,3],"interpolate":"monotone","clip":true},"encoding":{"color":{"field":"s","type":"nominal","legend":null}}},
    {"transform":[{"filter":"datum.p=='F' && datum.s=='DK' && isValid(datum.e)"}],"mark":{"type":"errorbar","ticks":true,"thickness":1.5,"size":9,"rule":{"strokeDash":[3,2]},"clip":true},"encoding":{"yError":{"field":"e"},"color":{"field":"s","type":"nominal","legend":null}}},
    {"transform":[{"filter":"datum.p=='F' && (datum.s=='TG' || datum.s=='TK')"}],"mark":{"type":"line","strokeWidth":4.5,"interpolate":"monotone","clip":true},"encoding":{"color":{"field":"s","type":"nominal","legend":null}}},
    {"transform":[{"filter":"datum.p=='F' && (datum.s=='TG' || datum.s=='TK') && isValid(datum.e)"}],"mark":{"type":"errorbar","ticks":true,"thickness":2,"size":11,"clip":true},"encoding":{"yError":{"field":"e"},"color":{"field":"s","type":"nominal","legend":null}}}
   ]},
  {"data":{"values":[{}]},"mark":{"type":"text","text":"F","font":"DejaVu Serif","fontSize":62,"align":"left","baseline":"alphabetic","dx":8,"dy":57,"color":"#1a1a1a"},"encoding":{"x":{"datum":-0.5,"type":"quantitative","axis":null},"y":{"datum":1.82,"type":"quantitative","axis":null}}},
  {"data":{"values":[{}]},"mark":{"type":"point","opacity":0},"encoding":{"x":{"datum":0,"type":"quantitative","axis":{"orient":"top","values":[0,1,2,3,4],"labels":false,"title":null}},"y":{"datum":0,"type":"quantitative","axis":{"orient":"right","values":[-1,-0.5,0,0.5,1,1.5],"labels":false,"title":null}}}}
 ]}
],
"config":{
 "view":{"stroke":"#222222","strokeWidth":1.5},
 "axis":{"domain":false,"grid":false,"ticks":true,"tickSize":-5,"tickColor":"#333333","tickWidth":1.2,"labelFont":"DejaVu Sans","labelFontWeight":"bold","labelFontSize":25,"labelColor":"#1a1a1a","labelOverlap":false,"labelFlush":false,"labelBound":false,"titleFont":"DejaVu Serif","titleFontWeight":"normal","titleFontSize":31,"titleColor":"#1a1a1a"},
 "axisX":{"labelFontSize":28,"labelPadding":14,"titlePadding":4,"titleFontSize":34}
}
}
